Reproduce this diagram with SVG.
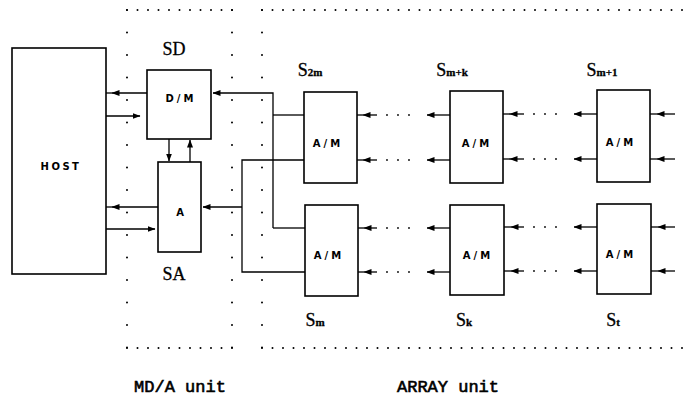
<svg xmlns="http://www.w3.org/2000/svg" width="686" height="396" viewBox="0 0 686 396">
<defs>
<marker id="ah" markerWidth="8" markerHeight="6" refX="7.5" refY="3" orient="auto" markerUnits="userSpaceOnUse"><path d="M0,0 L8,3 L0,6 z" fill="#000"/></marker>
<style>
.box{fill:#fff;stroke:#000;stroke-width:1.6}
.ln{fill:none;stroke:#000;stroke-width:1.3}
.dot{fill:none;stroke:#000;stroke-width:2;stroke-linecap:round}
.dh{stroke-dasharray:0 10.5}
.dv{stroke-dasharray:0 22.5}
.dd{fill:none;stroke:#000;stroke-width:1.8;stroke-linecap:round;stroke-dasharray:0 11}
.lab{font-family:"DejaVu Sans","Liberation Sans",sans-serif;font-weight:bold;font-size:10px;text-anchor:middle}
.ser{font-family:"Liberation Serif","Times New Roman",serif;font-size:18px;text-anchor:middle;stroke:#000;stroke-width:0.3}
.sub{font-family:"Liberation Serif","Times New Roman",serif;font-weight:bold;font-size:11px}
.unit{font-family:"Liberation Mono","Courier New",monospace;font-size:17px;text-anchor:middle;stroke:#000;stroke-width:0.6}
</style>
</defs>
<rect width="686" height="396" fill="#fff"/>
<g id="borders">
<path class="dot dh" d="M127,10 H233"/>
<path class="dot dh" d="M127,348 H233"/>
<path class="dot dv" d="M127,10 V348"/>
<path class="dot dv" d="M232,10 V348"/>
<path class="dot dh" d="M262,10 H686"/>
<path class="dot dh" d="M262,348 H686"/>
<path class="dot dv" d="M262,10 V348"/>
</g>
<g id="connectors">
<path class="ln" d="M147,93 H112" marker-end="url(#ah)"/>
<path class="ln" d="M112,93 H106"/>
<path class="ln" d="M106,116 H140" marker-end="url(#ah)"/>
<path class="ln" d="M158,207 H112" marker-end="url(#ah)"/>
<path class="ln" d="M112,207 H106"/>
<path class="ln" d="M106,229 H155" marker-end="url(#ah)"/>
<path class="ln" d="M169,139 V161" marker-end="url(#ah)"/>
<path class="ln" d="M190,162 V140" marker-end="url(#ah)"/>
<path class="ln" d="M273,228 V93 H213" marker-end="url(#ah)"/>
<path class="ln" d="M273,115 H304"/>
<path class="ln" d="M273,228 H305"/>
<path class="ln" d="M304,160 H242 V272 H305"/>
<path class="ln" d="M242,207 H203" marker-end="url(#ah)"/>
<g id="row-upper-1">
<path class="ln" d="M450,115 H427" marker-end="url(#ah)"/>
<path class="dd" d="M387,115 H420"/>
<path class="ln" d="M377,115 H363" marker-end="url(#ah)"/>
<path class="ln" d="M363,115 H357"/>
<path class="ln" d="M597,114 H574" marker-end="url(#ah)"/>
<path class="dd" d="M534,114 H566"/>
<path class="ln" d="M524,114 H510" marker-end="url(#ah)"/>
<path class="ln" d="M510,114 H503"/>
<path class="ln" d="M675,114 H657" marker-end="url(#ah)"/>
<path class="ln" d="M657,114 H650"/>
</g>
<g id="row-upper-2">
<path class="ln" d="M450,160 H427" marker-end="url(#ah)"/>
<path class="dd" d="M387,160 H420"/>
<path class="ln" d="M377,160 H363" marker-end="url(#ah)"/>
<path class="ln" d="M363,160 H357"/>
<path class="ln" d="M597,159 H574" marker-end="url(#ah)"/>
<path class="dd" d="M534,159 H566"/>
<path class="ln" d="M524,159 H510" marker-end="url(#ah)"/>
<path class="ln" d="M510,159 H503"/>
<path class="ln" d="M675,159 H657" marker-end="url(#ah)"/>
<path class="ln" d="M657,159 H650"/>
</g>
<g id="row-lower-1">
<path class="ln" d="M450,228 H427" marker-end="url(#ah)"/>
<path class="dd" d="M387,228 H420"/>
<path class="ln" d="M377,228 H364" marker-end="url(#ah)"/>
<path class="ln" d="M364,228 H358"/>
<path class="ln" d="M597,227 H574" marker-end="url(#ah)"/>
<path class="dd" d="M534,227 H566"/>
<path class="ln" d="M524,227 H511" marker-end="url(#ah)"/>
<path class="ln" d="M511,227 H504"/>
<path class="ln" d="M675,227 H658" marker-end="url(#ah)"/>
<path class="ln" d="M658,227 H651"/>
</g>
<g id="row-lower-2">
<path class="ln" d="M450,272 H427" marker-end="url(#ah)"/>
<path class="dd" d="M387,272 H420"/>
<path class="ln" d="M377,272 H364" marker-end="url(#ah)"/>
<path class="ln" d="M364,272 H358"/>
<path class="ln" d="M597,271 H574" marker-end="url(#ah)"/>
<path class="dd" d="M534,271 H566"/>
<path class="ln" d="M524,271 H511" marker-end="url(#ah)"/>
<path class="ln" d="M511,271 H504"/>
<path class="ln" d="M675,271 H658" marker-end="url(#ah)"/>
<path class="ln" d="M658,271 H651"/>
</g>
</g>
<g id="host">
<rect class="box" x="12" y="48" width="94" height="226"/>
<text class="lab" x="61" y="170" letter-spacing="2.5">HOST</text>
</g>
<g id="sd">
<rect class="box" x="147" y="70" width="64" height="69"/>
<text class="lab" x="181" y="102" letter-spacing="3">D/M</text>
<text class="ser" x="174" y="55">SD</text>
</g>
<g id="sa">
<rect class="box" x="158" y="162" width="43" height="90"/>
<text class="lab" x="180" y="216">A</text>
<text class="ser" x="174" y="280">SA</text>
</g>
<g id="s2m">
<rect class="box" x="304" y="92" width="53" height="91"/>
<text class="lab" x="328" y="147" letter-spacing="3">A/M</text>
<text class="ser" x="310" y="76" text-anchor="start">S<tspan class="sub" font-family="Liberation Sans, Arial, sans-serif" font-size="11">2m</tspan></text>
</g>
<g id="smk">
<rect class="box" x="450" y="91" width="53" height="92"/>
<text class="lab" x="477" y="147" letter-spacing="3">A/M</text>
<text class="ser" x="452" y="76" text-anchor="start">S<tspan class="sub">m+k</tspan></text>
</g>
<g id="sm1">
<rect class="box" x="597" y="90" width="53" height="92"/>
<text class="lab" x="621" y="146" letter-spacing="3">A/M</text>
<text class="ser" x="602" y="76" text-anchor="start">S<tspan class="sub">m+1</tspan></text>
</g>
<g id="sm">
<rect class="box" x="305" y="205" width="53" height="91"/>
<text class="lab" x="329" y="259" letter-spacing="3">A/M</text>
<text class="ser" x="315" y="326" text-anchor="start">S<tspan class="sub">m</tspan></text>
</g>
<g id="sk">
<rect class="box" x="450" y="205" width="54" height="90"/>
<text class="lab" x="478" y="259" letter-spacing="3">A/M</text>
<text class="ser" x="464" y="326" text-anchor="start">S<tspan class="sub">k</tspan></text>
</g>
<g id="st">
<rect class="box" x="597" y="204" width="54" height="90"/>
<text class="lab" x="621" y="258" letter-spacing="3">A/M</text>
<text class="ser" x="613" y="326" text-anchor="start">S<tspan class="sub">t</tspan></text>
</g>
<g id="units">
<text class="unit" x="180" y="392">MD/A unit</text>
<text class="unit" x="448" y="392">ARRAY unit</text>
</g>
</svg>
